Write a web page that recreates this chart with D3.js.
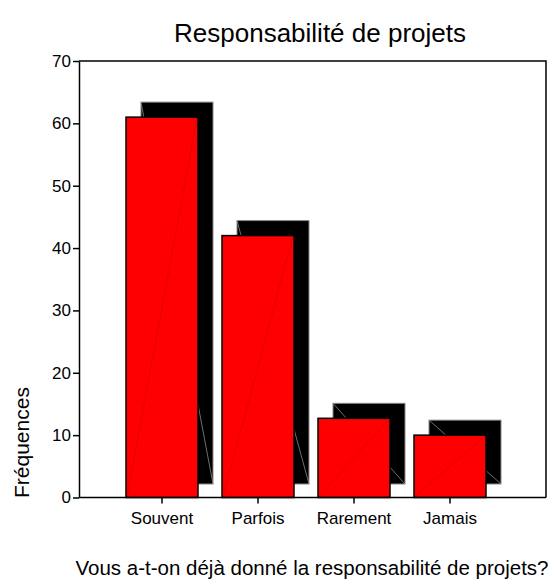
<!DOCTYPE html>
<html>
<head>
<meta charset="utf-8">
<script src="https://cdn.jsdelivr.net/npm/d3@7"></script>
<style>
	body { margin: 0; background: #fff; }
	text { font-family: "Liberation Sans", Arial, sans-serif; fill: #000; }
</style>
</head>
<body>
<svg id="chart" width="549" height="580"></svg>
<script>

var categories = ['Souvent', 'Parfois', 'Rarement', 'Jamais'];
var frequencies = [61, 42, 12.7, 10];
var yTicks = [0, 10, 20, 30, 40, 50, 60, 70];

var svg = d3.select('#chart');
var g = svg.append('g');

var plotLeft = 79, plotRight = 546, plotTop = 61, plotBottom = 497.5;
var depth = 15; // 3d shadow offset

var x = d3.scaleBand()
	.domain(categories)
	.range([114, 498])
	.paddingInner(0.25)
	.paddingOuter(0.125);

var y = d3.scaleLinear()
	.domain([0, 70])
	.range([plotBottom, plotTop]);

// frame: top + right
g.append('path')
	.attr('d', 'M' + plotLeft + ',' + plotTop + 'H' + plotRight + 'V' + plotBottom)
	.attr('fill', 'none')
	.attr('stroke', '#000')
	.attr('stroke-width', 1.5);

var data = categories.map(function(c, i) { return {cat: c, val: frequencies[i]}; });

var bars = g.selectAll('g.bar')
	.data(data)
	.enter().append('g')
	.attr('class', 'bar');

// back face (black shadow)
bars.append('rect')
	.attr('x', function(d) { return x(d.cat) + depth; })
	.attr('y', function(d) { return y(d.val) - depth; })
	.attr('width', x.bandwidth())
	.attr('height', function(d) { return (y(0) - 13.5) - (y(d.val) - depth); })
	.style('fill', '#000')
	.attr('stroke', '#888')
	.attr('stroke-width', 1);

bars.append('line')
	.attr('x1', function(d) { return x(d.cat) + depth; })
	.attr('y1', function(d) { return y(d.val) - depth; })
	.attr('x2', function(d) { return x(d.cat) + depth + x.bandwidth(); })
	.attr('y2', y(0) - 13.5)
	.attr('stroke', '#8a8a8a')
	.attr('stroke-width', 0.8);

// front face
bars.append('rect')
	.attr('x', function(d) { return x(d.cat); })
	.attr('y', function(d) { return y(d.val); })
	.attr('width', x.bandwidth())
	.attr('height', function(d) { return y(0) - y(d.val); })
	.style('fill', '#ff0000')
	.attr('stroke', '#000')
	.attr('stroke-width', 1.5);

bars.append('line')
	.attr('x1', function(d) { return x(d.cat) + 1; })
	.attr('y1', y(0) - 1)
	.attr('x2', function(d) { return x(d.cat) + x.bandwidth() - 1; })
	.attr('y2', function(d) { return y(d.val) + 1; })
	.attr('stroke', '#d80000')
	.attr('stroke-width', 0.7);

// axes
var yAxis = g.append('g')
	.attr('transform', 'translate(' + plotLeft + ',0)')
	.call(d3.axisLeft(y).tickValues(yTicks).tickSize(6).tickPadding(2).tickSizeOuter(0));

var xAxis = g.append('g')
	.attr('transform', 'translate(0,' + plotBottom + ')')
	.call(d3.axisBottom(x).tickSize(6).tickPadding(8).tickSizeOuter(0));

xAxis.select('.domain').attr('d', 'M' + plotLeft + ',0H' + plotRight);

g.selectAll('.domain, .tick line')
	.attr('stroke', '#000')
	.attr('stroke-width', 1.5);

g.selectAll('.tick text')
	.style('font-size', '17px')
	.attr('fill', '#000');

// titles
g.append('text')
	.attr('x', 320)
	.attr('y', 42)
	.attr('text-anchor', 'middle')
	.style('font-size', '26px')
	.text('Responsabilité de projets');

g.append('text')
	.attr('transform', 'translate(29,498) rotate(-90)')
	.attr('text-anchor', 'start')
	.style('font-size', '21px')
	.text('Fréquences');

g.append('text')
	.attr('x', 312)
	.attr('y', 575)
	.attr('text-anchor', 'middle')
	.style('font-size', '20.5px')
	.text('Vous a-t-on déjà donné la responsabilité de projets?');

</script>
</body>
</html>
